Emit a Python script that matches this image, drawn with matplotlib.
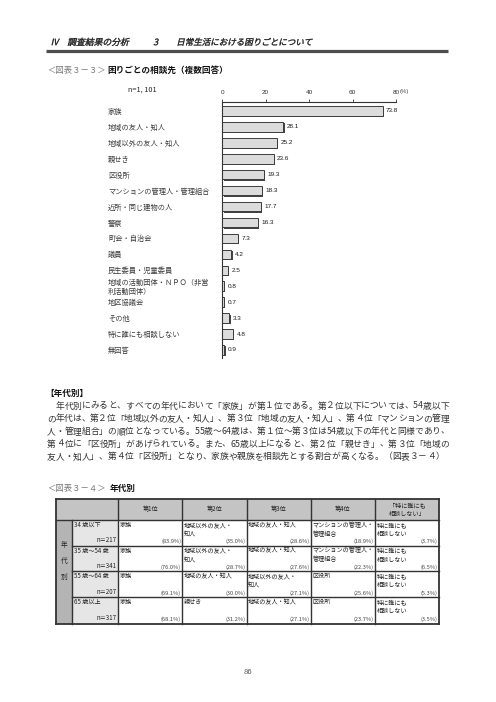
import matplotlib
matplotlib.use("Agg")
import matplotlib.pyplot as plt
from matplotlib.textpath import TextPath
from matplotlib.patches import PathPatch, Rectangle
from matplotlib.font_manager import FontProperties
from matplotlib.transforms import Affine2D
import matplotlib.patheffects as pe

plt.rcParams['font.family'] = ['Noto Sans CJK JP', 'DejaVu Sans']

# ---------------- data ----------------
categories = ['家族', '地域の友人・知人', '地域以外の友人・知人', '親せき', '区役所',
              'マンションの管理人・管理組合', '近所・同じ建物の人', '警察', '町会・自治会',
              '議員', '民生委員・児童委員', '地域の活動団体・ＮＰＯ（非営\n利活動団体）',
              '地区協議会', 'その他', '特に誰にも相談しない', '無回答']
values = [73.8, 28.1, 25.2, 23.6, 19.3, 18.3, 17.7, 16.3, 7.3, 4.2, 2.5, 0.8, 0.7, 3.3, 4.8, 0.9]
x_ticks = [0, 20, 40, 60, 80]
n_total = 'n=1, 101'

age_groups = ['34 歳以下', '35 歳～54 歳', '55 歳～64 歳', '65 歳以上']
age_n = [217, 341, 207, 317]
rank_labels = ['第1位', '第2位', '第3位', '第4位', '「特に誰にも\n相談しない」']
rank_items = [
    ['家族', '地域以外の友人・\n知人', '地域の友人・知人', 'マンションの管理人・\n管理組合', '特に誰にも\n相談しない'],
    ['家族', '地域以外の友人・\n知人', '地域の友人・知人', 'マンションの管理人・\n管理組合', '特に誰にも\n相談しない'],
    ['家族', '地域の友人・知人', '地域以外の友人・\n知人', '区役所', '特に誰にも\n相談しない'],
    ['家族', '親せき', '地域の友人・知人', '区役所', '特に誰にも\n相談しない'],
]
rank_pcts = [
    [83.9, 35.0, 28.6, 18.9, 3.7],
    [76.0, 28.7, 27.6, 22.3, 6.5],
    [69.1, 30.0, 27.1, 25.6, 5.3],
    [68.1, 31.2, 27.1, 23.7, 3.5],
]

body_lines = [
    '　年代別にみると、すべての年代において「家族」が第１位である。第２位以下については、54歳以下',
    'の年代は、第２位「地域以外の友人・知人」、第３位「地域の友人・知人」、第４位「マンションの管理',
    '人・管理組合」の順位となっている。55歳～64歳は、第１位～第３位は54歳以下の年代と同様であり、',
    '第４位に「区役所」があげられている。また、65歳以上になると、第２位「親せき」、第３位「地域の',
    '友人・知人」、第４位「区役所」となり、家族や親族を相談先とする割合が高くなる。（図表３－４）',
]

# ---------------- figure ----------------
W, H = 496, 702
fig = plt.figure(figsize=(W / 100, H / 100), dpi=100)
page = fig.add_axes([0, 0, 1, 1])
page.set_xlim(0, W)
page.set_ylim(H, 0)
page.axis('off')

fp_reg = FontProperties(family='Noto Sans CJK JP')


def italic_text(x, y, s, size_px, color='#1a1a1a'):
    tp = TextPath((0, 0), s, size=size_px, prop=fp_reg)
    tr = Affine2D().translate(0, -0.36 * size_px).skew_deg(13, 0).scale(1, -1).translate(x, y)
    page.add_patch(PathPatch(tp, transform=tr + page.transData, fc=color, ec=color, lw=0.25))


# header
italic_text(51, 42, 'Ⅳ', 8.6)
italic_text(68, 42, '調査結果の分析', 8.8)
italic_text(154, 42, '3', 8.8)
italic_text(177, 42, '日常生活における困りごとについて', 8.5)
page.plot([46, 448], [50.5, 50.5], color='#4d4d4d', lw=2.3, solid_capstyle='butt')

# subtitle 3-3
page.text(47, 70, '＜図表３－３＞', fontsize=6.0, color='#777777', va='center', ha='left')
page.text(107, 70, '困りごとの相談先（複数回答）', fontsize=6.2, color='#111111',
          va='center', ha='left', fontweight='bold')
page.text(128, 90, n_total, fontsize=5.3, color='#222222', va='center', ha='left')
page.text(400, 91, '(%)', fontsize=4.2, color='#444444', va='center', ha='left',
          family='Liberation Sans')

# ---------------- bar chart ----------------
x0_px, x1_px = 222.3, 396.0
y_top_px, y_bot_px = 102.0, 357.5
row0, step = 111.0, 15.93
ax = fig.add_axes([x0_px / W, 1 - y_bot_px / H, (x1_px - x0_px) / W, (y_bot_px - y_top_px) / H])
ax.set_xlim(0, 80)
ax.set_ylim((y_bot_px - row0) / step, (y_top_px - row0) / step)
ax.patch.set_alpha(0)
ypos = list(range(len(categories)))
bars = ax.barh(ypos, values, height=0.6, color='#dcdcdc', edgecolor='#3c3c3c', linewidth=0.7)
for b in bars:
    b.set_path_effects([pe.SimplePatchShadow(offset=(0.9, -0.9), shadow_rgbFace='#444444', alpha=1.0),
                        pe.Normal()])
for yi, v in zip(ypos, values):
    ax.annotate(f'{v:.1f}', (v, yi), xytext=(2.6, 0), textcoords='offset points',
                va='center', ha='left', fontsize=4.6, color='#1a1a1a', family='Liberation Sans')

for s in ['right', 'bottom']:
    ax.spines[s].set_visible(False)
for s in ['top', 'left']:
    ax.spines[s].set_color('#333333')
    ax.spines[s].set_linewidth(0.8)
ax.xaxis.tick_top()
ax.set_xticks(x_ticks)
ax.set_xticklabels([str(t) for t in x_ticks], fontsize=4.6, family='Liberation Sans', color='#222222')
ax.tick_params(axis='x', direction='out', length=2.2, width=0.6, pad=3.2, colors='#333333')
ax.set_yticks(ypos)
ax.set_yticklabels(categories, fontsize=5.2, color='#3a3a3a', linespacing=1.1)
ax.tick_params(axis='y', length=0, pad=(x0_px - 108) * 72 / 100)
for lab in ax.get_yticklabels():
    lab.set_horizontalalignment('left')

# ---------------- body text ----------------
page.text(45, 393, '【年代別】', fontsize=6.2, fontweight='bold', color='#111111', va='center', ha='left')


def text_line(s, x0, x1, y, fs):
    ems = [0.55 if ord(c) < 0x2000 else 1.0 for c in s]
    em = (x1 - x0) / sum(ems)
    x = x0
    for c, e in zip(s, ems):
        page.text(x + e * em / 2, y, c, ha='center', va='center', fontsize=fs, color='#333333')
        x += e * em


body_y = [406, 418.7, 431.4, 444.1, 456.8]
for i, (ln, yy) in enumerate(zip(body_lines, body_y)):
    last = i == len(body_lines) - 1
    text_line(ln, 47, 449 if not last else 444, yy, 6.3)

page.text(47, 488, '＜図表３－４＞', fontsize=6.0, color='#777777', va='center', ha='left')
page.text(109.5, 488, '年代別', fontsize=6.2, color='#111111', va='center', ha='left', fontweight='bold')

# ---------------- table ----------------
col_edges = [56, 72, 118.3, 182.3, 246.7, 311, 375, 439]
row_edges = [499.3, 520, 545.5, 571, 597, 623.5]
lc = '#333333'
tfs = 4.4
# fills
page.add_patch(Rectangle((col_edges[0], row_edges[0]), col_edges[-1] - col_edges[0],
                         row_edges[1] - row_edges[0], fc='#c4c4c4', ec='none'))
page.add_patch(Rectangle((col_edges[0], row_edges[1]), col_edges[1] - col_edges[0],
                         row_edges[-1] - row_edges[1], fc='#b4b4b4', ec='none'))
page.add_patch(Rectangle((col_edges[1], row_edges[1]), col_edges[2] - col_edges[1],
                         row_edges[-1] - row_edges[1], fc='#e6e6e6', ec='none'))
# header texts
for j, lab in enumerate(rank_labels):
    cx = (col_edges[j + 2] + col_edges[j + 3]) / 2
    cy = (row_edges[0] + row_edges[1]) / 2
    page.text(cx, cy, lab, ha='center', va='center', fontsize=tfs, color='#222222', linespacing=1.15)
# vertical label
for k, ch in enumerate('年代別'):
    page.text((col_edges[0] + col_edges[1]) / 2, 545 + 16 * k, ch, ha='center', va='center',
              fontsize=tfs + 0.4, color='#222222')
# body cells
for i in range(len(age_groups)):
    yt, yb = row_edges[i + 1], row_edges[i + 2]
    page.text(col_edges[1] + 1.5, yt + 1.2, age_groups[i], ha='left', va='top', fontsize=tfs, color='#222222')
    page.text(col_edges[2] - 1.5, yb - 1.0, f'n＝{age_n[i]}', ha='right', va='bottom', fontsize=tfs,
              color='#222222')
    for j in range(5):
        xl, xr = col_edges[j + 2], col_edges[j + 3]
        page.text(xl + 1.5, yt + 1.2, rank_items[i][j], ha='left', va='top', fontsize=tfs,
                  color='#222222', linespacing=1.15)
        page.text(xr - 1.2, yb - 1.0, f'({rank_pcts[i][j]:.1f}%)', ha='right', va='bottom',
                  fontsize=tfs - 0.3, color='#444444')
# grid lines
for k, x in enumerate(col_edges):
    ystart = row_edges[1] if k == 1 else row_edges[0]
    page.plot([x, x], [ystart, row_edges[-1]], color=lc, lw=1.0 if k not in (0, len(col_edges) - 1) else 1.3)
for k, y in enumerate(row_edges):
    xs = col_edges[1] if 1 < k < len(row_edges) - 1 else col_edges[0]
    page.plot([xs, col_edges[-1]], [y, y], color=lc, lw=1.0 if k not in (0, len(row_edges) - 1) else 1.3)

# page number
page.text(248, 672, '86', ha='center', va='center', fontsize=5.5, color='#555555')

fig.savefig('out.png', dpi=100, facecolor='white')
